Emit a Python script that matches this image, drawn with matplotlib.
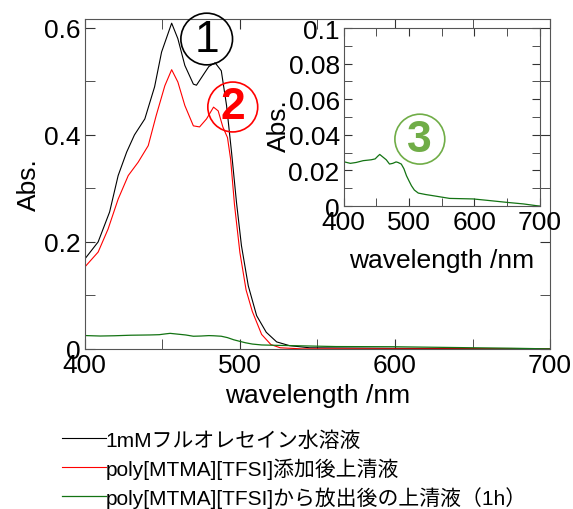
import numpy as np
import matplotlib
matplotlib.use("Agg")
import matplotlib.pyplot as plt
from matplotlib.ticker import MultipleLocator

plt.rcParams['font.family'] = ['Liberation Sans', 'Noto Sans CJK JP', 'DejaVu Sans']

# 1mM fluorescein solution
wl_black = [400, 408.6, 416, 421.5, 427, 432, 438.7, 445, 449.5, 456, 460, 464.5, 470, 472,
            477, 480, 484, 488, 491.4, 494.6, 497.8, 501, 505.4, 510.8, 517, 523.7, 532, 545, 600, 700]
abs_black = [0.168, 0.20, 0.256, 0.324, 0.368, 0.40, 0.43, 0.49, 0.555, 0.609, 0.58, 0.53, 0.495, 0.493,
             0.515, 0.528, 0.535, 0.52, 0.455, 0.368, 0.274, 0.193, 0.118, 0.062, 0.031, 0.013, 0.006, 0.002, 0.001, 0.0]

# supernatant after poly[MTMA][TFSI] addition
wl_red = [400, 408.6, 415, 421.5, 428, 434.4, 440.9, 446, 451.6, 456, 460, 464.5, 470, 474,
          478.5, 483, 486, 489, 492, 494, 496.5, 500, 504, 508, 514, 520, 526, 540, 600, 700]
abs_red = [0.153, 0.181, 0.224, 0.28, 0.324, 0.349, 0.38, 0.436, 0.492, 0.522, 0.499, 0.455, 0.417, 0.415,
           0.43, 0.452, 0.445, 0.415, 0.395, 0.355, 0.27, 0.18, 0.11, 0.07, 0.027, 0.008, 0.002, 0.0, 0.0, 0.0]

# supernatant after release (1h)
wl_green = [400, 410, 419, 429.6, 442, 448, 452, 455, 460, 465, 470, 475, 480, 483, 488,
            492, 496, 500, 503.6, 508, 514, 525, 537, 562, 598, 620, 649, 675, 695, 700]
abs_green = [0.0249, 0.024, 0.0245, 0.0255, 0.026, 0.0265, 0.028, 0.029, 0.0275, 0.026, 0.0236, 0.024, 0.0248, 0.0245, 0.0236,
             0.021, 0.017, 0.014, 0.0114, 0.009, 0.0073, 0.0065, 0.0058, 0.0043, 0.004, 0.0032, 0.0021, 0.0012, 0.0002, 0.0]

labels = ["1mMフルオレセイン水溶液",
          "poly[MTMA][TFSI]添加後上清液",
          "poly[MTMA][TFSI]から放出後の上清液（1h）"]

fig = plt.figure(figsize=(5.73, 5.10), dpi=100)
ax = fig.add_axes([0.148, 0.314, 0.812, 0.647])

l1, = ax.plot(wl_black, abs_black, c="black", lw=0.8)
l2, = ax.plot(wl_red, abs_red, c="red", lw=0.8)
l3, = ax.plot(wl_green, abs_green, c="#137313", lw=0.9)

ax.set_xlim(400, 700)
ax.set_ylim(0, 0.617)
ax.xaxis.set_major_locator(MultipleLocator(100))
ax.xaxis.set_minor_locator(MultipleLocator(50))
ax.yaxis.set_major_locator(MultipleLocator(0.2))
ax.yaxis.set_minor_locator(MultipleLocator(0.1))
ax.yaxis.set_major_formatter(plt.FuncFormatter(lambda v, p: "0" if v == 0 else f"{v:.1f}"))
ax.tick_params(which="both", direction="in", top=True, right=True, labelsize=19, pad=3,
               length=7, color="#333333")
for s in ax.spines.values():
    s.set_color("#555555")
ax.set_xlabel("wavelength /nm", fontsize=19, labelpad=4)
ax.set_ylabel("Abs.", fontsize=19, labelpad=2)

ax.text(0.262, 0.939, "1", transform=ax.transAxes, fontsize=32, color="black",
        ha="center", va="center",
        bbox=dict(boxstyle="circle,pad=0.12", fc="none", ec="black", lw=1.2))
ax.text(0.318, 0.733, "2", transform=ax.transAxes, fontsize=32, fontweight="bold", color="red",
        ha="center", va="center",
        bbox=dict(boxstyle="circle,pad=0.1", fc="none", ec="red", lw=1.2))

# inset
axi = fig.add_axes([0.600, 0.594, 0.342, 0.349])
axi.plot(wl_green, abs_green, c="#137313", lw=0.9)
axi.set_xlim(400, 700)
axi.set_ylim(0, 0.1)
axi.xaxis.set_major_locator(MultipleLocator(100))
axi.xaxis.set_minor_locator(MultipleLocator(50))
axi.yaxis.set_major_locator(MultipleLocator(0.02))
axi.yaxis.set_minor_locator(MultipleLocator(0.01))
axi.yaxis.set_major_formatter(plt.FuncFormatter(
    lambda v, p: "0" if v == 0 else ("0.1" if abs(v - 0.1) < 1e-9 else f"{v:.2f}")))
axi.tick_params(which="both", direction="in", top=True, right=True, labelsize=19, pad=3,
                length=6, color="#333333")
for s in axi.spines.values():
    s.set_color("#555555")
axi.set_xlabel("wavelength /nm", fontsize=19, labelpad=10)
axi.set_ylabel("Abs.", fontsize=19)
axi.yaxis.set_label_coords(-0.27, 0.46)
axi.text(0.388, 0.376, "3", transform=axi.transAxes, fontsize=32, fontweight="bold", color="#70AD47",
         ha="center", va="center",
         bbox=dict(boxstyle="circle,pad=0.1", fc="none", ec="#70AD47", lw=1.2))

fig.legend([l1, l2, l3], labels, loc="upper left", bbox_to_anchor=(0.09, 0.175), frameon=False,
           fontsize=15, handlelength=2.1, handletextpad=0.0, labelspacing=0.35, borderpad=0)

fig.savefig("out.png", dpi=100)
